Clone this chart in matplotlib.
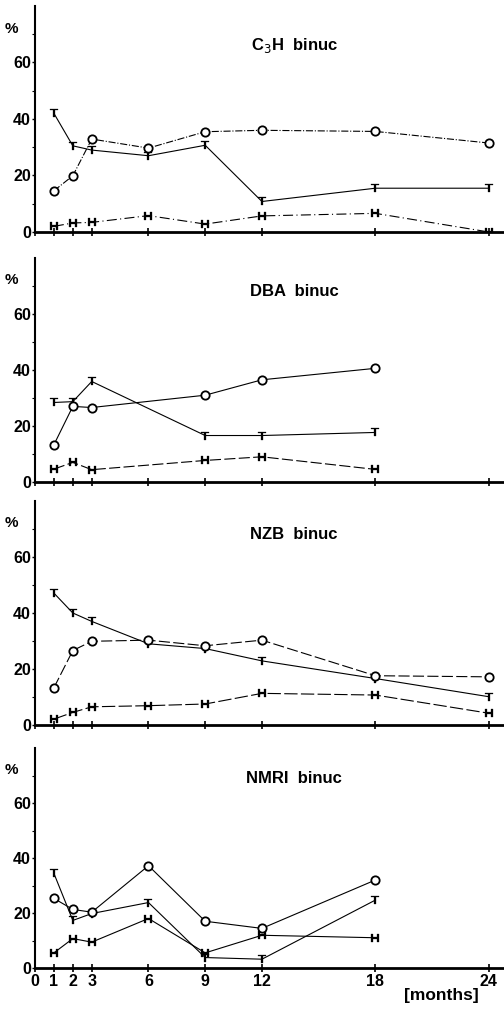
import matplotlib.pyplot as plt
import numpy as np

plt.rcParams['font.family'] = ['Liberation Sans', 'DejaVu Sans']

# months sampled in each strain
months_all = [1, 2, 3, 6, 9, 12, 18, 24]
months_dba = [1, 2, 3, 9, 12, 18]
months_nmri = [1, 2, 3, 6, 9, 12, 18]

# C3H
c3h_o = [14.6, 19.9, 32.9, 29.7, 35.5, 36.0, 35.6, 31.5]
c3h_t = [42.0, 30.5, 29.0, 27.0, 30.7, 10.8, 15.5, 15.5]
c3h_h = [2.0, 3.2, 3.4, 5.8, 2.8, 5.7, 6.6, 0.0]

# DBA
dba_o = [13.3, 27.0, 26.6, 31.0, 36.5, 40.6]
dba_t = [28.4, 28.7, 35.9, 16.6, 16.6, 17.7]
dba_h = [4.6, 7.0, 4.4, 7.7, 9.0, 4.5]

# NZB
nzb_o = [13.3, 26.6, 29.9, 30.3, 28.3, 30.3, 17.6, 17.2]
nzb_t = [47.1, 40.0, 37.0, 29.0, 27.3, 22.9, 16.6, 10.1]
nzb_h = [2.1, 4.5, 6.5, 6.9, 7.5, 11.3, 10.7, 4.2]

# NMRI
nmri_o = [25.3, 21.3, 20.3, 37.2, 17.0, 14.4, 32.0]
nmri_t = [34.4, 17.3, 19.8, 23.8, 3.8, 3.2, 24.7]
nmri_h = [5.5, 10.7, 9.4, 18.0, 5.5, 11.9, 11.0]

xticks = [0, 1, 2, 3, 6, 9, 12, 18, 24]
yticks = [0, 20, 40, 60]

panels = [
    ('C$_3$H  binuc', months_all, c3h_o, c3h_t, c3h_h, ('dashdot', '-', (0, (9, 3, 1, 3)))),
    ('DBA  binuc', months_dba, dba_o, dba_t, dba_h, ('-', '-', (0, (10, 3)))),
    ('NZB  binuc', months_all, nzb_o, nzb_t, nzb_h, ((0, (10, 3)), '-', (0, (12, 3)))),
    ('NMRI  binuc', months_nmri, nmri_o, nmri_t, nmri_h, ('-', '-', '-')),
]
title_y = [66, 68, 68, 69]

# axes boxes in pixels: (bottom of 0 line, height)
boxes = [(232, 226), (482, 224), (725, 224), (968, 220)]

W, H = 504, 1009
fig = plt.figure(figsize=(W / 100, H / 100), dpi=100)
left = 35 / W

for i, (title, m, yo, yt, yh, styles) in enumerate(panels):
    y0, hgt = boxes[i]
    ax = fig.add_axes([left, 1 - y0 / H, 1 - left, hgt / H])
    lw = 0.8
    ax.plot(m, yt, color='black', lw=lw, ls=styles[1], marker='$\\mathbf{T}$',
            ms=6, mew=0.2, zorder=3)
    ax.plot(m, yh, color='black', lw=lw, ls=styles[2], marker='$\\mathbf{H}$',
            ms=6, mew=0.2, zorder=3)
    ax.plot(m, yo, color='black', lw=lw, ls=styles[0], marker='o', ms=6,
            mfc='white', mec='black', mew=1.3, zorder=4)

    ax.set_xlim(0, 24.8)
    ax.set_ylim(0, 80)
    for s in ['top', 'right']:
        ax.spines[s].set_visible(False)
    ax.spines['bottom'].set_linewidth(2.0)
    ax.spines['left'].set_linewidth(1.5)

    ax.set_xticks(xticks)
    ax.set_yticks(yticks)
    ax.set_yticks([10, 30, 50, 70], minor=True)
    ax.tick_params(axis='x', direction='inout', length=6, width=1.2)
    ax.tick_params(axis='y', which='major', direction='out', length=2, width=1.0,
                   labelsize=11.5, pad=1)
    ax.tick_params(axis='y', which='minor', direction='out', length=2, width=0.8)
    for lab in ax.get_yticklabels():
        lab.set_fontweight('bold')

    if i == 3:
        ax.set_xticklabels([str(v) for v in xticks], fontsize=11.5, fontweight='bold')
        ax.tick_params(axis='x', pad=1)
        ax.text(21.5, -10, '[months]', ha='center', va='center', fontsize=12.5,
                fontweight='bold', clip_on=False)
    else:
        ax.set_xticklabels([])

    ax.text(13.7, title_y[i], title, ha='center', va='center', fontsize=12,
            fontweight='bold')
    ax.text(-0.05, 72, '%', transform=ax.get_yaxis_transform(), ha='center',
            va='center', fontsize=11, fontweight='bold')

fig.savefig('out.png', dpi=100)
